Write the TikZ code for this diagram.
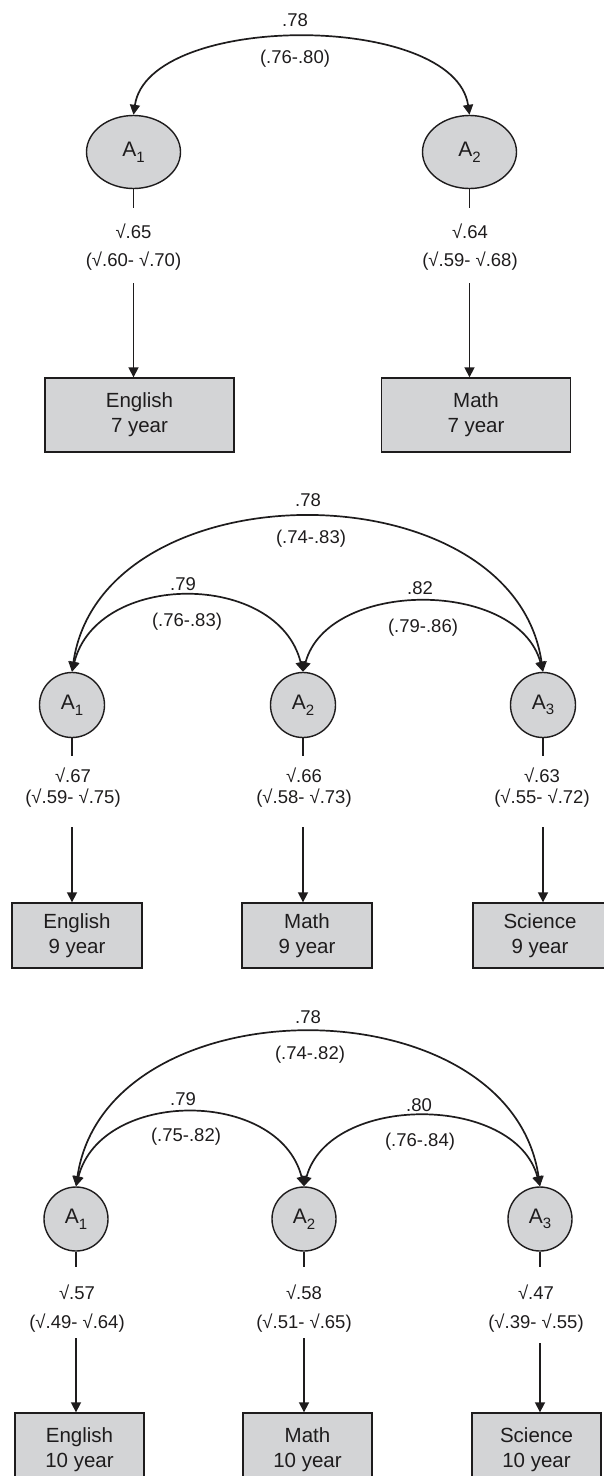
\documentclass[tikz,border=0pt]{standalone}
\usepackage{fontspec}
\setmainfont{Liberation Sans}
\usetikzlibrary{arrows.meta,shapes.geometric,calc}
\definecolor{nodefill}{RGB}{211,212,214}
\definecolor{ink}{RGB}{30,28,29}
\newcommand\latsub[1]{\raisebox{-0.5ex}{\fontsize{15}{15}\selectfont #1}}
\begin{document}
\begin{tikzpicture}[x=1pt,y=-1pt,
  lat/.style={ellipse,draw=ink,fill=nodefill,line width=1.4pt,inner sep=0pt,text=ink,font=\fontsize{21}{24}\selectfont},
  obs/.style={rectangle,draw=ink,fill=nodefill,line width=1.4pt,inner sep=0pt,align=center,text=ink,font=\fontsize{20.5}{25}\selectfont},
  lbl/.style={inner sep=0pt,text=ink,font=\fontsize{18.5}{21}\selectfont},
  load/.style={lbl,align=center},
  conn/.style={draw=ink,line width=1.7pt},
  arr/.style={conn,-{Triangle[length=10pt,width=10pt]}},
  corr/.style={conn,{Triangle[length=10pt,width=10pt]}-{Triangle[length=10pt,width=10pt]}},
]
\useasboundingbox (0,0) rectangle (603,1476);

% ---------------- Panel 1 ----------------
\node[lat,minimum width=94pt,minimum height=73pt] (pA1) at (133.5,152) {A\latsub{1}};
\node[lat,minimum width=94pt,minimum height=73pt] (pA2) at (469.5,152) {A\latsub{2}};
\node[lbl] (pc12) at (295,20) {.78};
\node[lbl] (pci12) at (295,59) {(.76-.80)};
\draw[corr] (pA1.north) .. controls ($(pA1.north)+(15,-103)$) and ($(pA2.north)+(-15,-103)$) .. (pA2.north);

\node[obs,minimum width=189pt,minimum height=74pt] (pE) at (139.5,415) {English\\7 year};
\node[obs,minimum width=189pt,minimum height=74pt] (pM) at (476,415) {Math\\7 year};

\coordinate (ps1) at (133.5,208);
\coordinate (ps2) at (469.5,208);
\draw[conn] (pA1.south) -- (ps1);
\draw[conn] (pA2.south) -- (ps2);
\node[load,font=\fontsize{18.5}{28}\selectfont] (pl1) at (133.5,247) {√.65\\(√.60- √.70)};
\node[load,font=\fontsize{18.5}{28}\selectfont] (pl2) at (470,247) {√.64\\(√.59- √.68)};
\coordinate (pt1) at (133.5,283);
\coordinate (pt2) at (469.5,283);
\draw[arr] (pt1) -- (pt1 |- pE.north);
\draw[arr] (pt2) -- (pt2 |- pM.north);

% ---------------- Panel 2 ----------------
\node[lat,minimum width=65pt,minimum height=65pt] (qA1) at (72,705) {A\latsub{1}};
\node[lat,minimum width=65pt,minimum height=65pt] (qA2) at (303,705) {A\latsub{2}};
\node[lat,minimum width=65pt,minimum height=65pt] (qA3) at (543,705) {A\latsub{3}};
\draw[corr] (qA1.north) .. controls ($(qA1.north)+(30,-206)$) and ($(qA3.north)+(-30,-206)$) .. (qA3.north);
\draw[corr] (qA1.north) .. controls ($(qA1.north)+(25,-101)$) and ($(qA2.north)+(-25,-101)$) .. (qA2.north);
\draw[corr] (qA2.north) .. controls ($(qA2.north)+(25,-93)$) and ($(qA3.north)+(-25,-93)$) .. (qA3.north);
\node[lbl] (qc13) at (308,500) {.78};
\node[lbl] (qci13) at (311,539) {(.74-.83)};
\node[lbl] (qc12) at (183,584) {.79};
\node[lbl] (qci12) at (187,622) {(.76-.83)};
\node[lbl] (qc23) at (420,588) {.82};
\node[lbl] (qci23) at (423,628) {(.79-.86)};

\node[obs,minimum width=130pt,minimum height=65pt] (qE) at (77,935.5) {English\\9 year};
\node[obs,minimum width=130pt,minimum height=65pt] (qM) at (307,935.5) {Math\\9 year};
\node[obs,minimum width=134pt,minimum height=65pt] (qS) at (540,935.5) {Science\\9 year};

\coordinate (qs1) at (72,756);
\coordinate (qs2) at (303,756);
\coordinate (qs3) at (543,756);
\draw[conn] (qA1.south) -- (qs1);
\draw[conn] (qA2.south) -- (qs2);
\draw[conn] (qA3.south) -- (qs3);
\node[load] (ql1) at (73,788) {√.67\\(√.59- √.75)};
\node[load] (ql2) at (304,788) {√.66\\(√.58- √.73)};
\node[load] (ql3) at (542,788) {√.63\\(√.55- √.72)};
\coordinate (qt1) at (72,827);
\coordinate (qt2) at (303,827);
\coordinate (qt3) at (543,827);
\draw[arr] (qt1) -- (qt1 |- qE.north);
\draw[arr] (qt2) -- (qt2 |- qM.north);
\draw[arr] (qt3) -- (qt3 |- qS.north);

% ---------------- Panel 3 ----------------
\node[lat,minimum width=64pt,minimum height=64pt] (rA1) at (76,1219) {A\latsub{1}};
\node[lat,minimum width=64pt,minimum height=64pt] (rA2) at (304,1219) {A\latsub{2}};
\node[lat,minimum width=64pt,minimum height=64pt] (rA3) at (540,1219) {A\latsub{3}};
\draw[corr] (rA1.north) .. controls ($(rA1.north)+(30,-205)$) and ($(rA3.north)+(-30,-205)$) .. (rA3.north);
\draw[corr] (rA1.north) .. controls ($(rA1.north)+(25,-98)$) and ($(rA2.north)+(-25,-98)$) .. (rA2.north);
\draw[corr] (rA2.north) .. controls ($(rA2.north)+(25,-93)$) and ($(rA3.north)+(-25,-93)$) .. (rA3.north);
\node[lbl] (rc13) at (308,1017) {.78};
\node[lbl] (rci13) at (310,1055) {(.74-.82)};
\node[lbl] (rc12) at (183,1099) {.79};
\node[lbl] (rci12) at (186,1137) {(.75-.82)};
\node[lbl] (rc23) at (419,1105) {.80};
\node[lbl] (rci23) at (420,1142) {(.76-.84)};

\node[obs,minimum width=129pt,minimum height=74pt] (rE) at (79.5,1450) {English\\10 year};
\node[obs,minimum width=129pt,minimum height=74pt] (rM) at (307.5,1450) {Math\\10 year};
\node[obs,minimum width=129pt,minimum height=74pt] (rS) at (536.5,1450) {Science\\10 year};

\coordinate (rs1) at (76,1267);
\coordinate (rs2) at (304,1267);
\coordinate (rs3) at (540,1267);
\draw[conn] (rA1.south) -- (rs1);
\draw[conn] (rA2.south) -- (rs2);
\draw[conn] (rA3.south) -- (rs3);
\node[load,font=\fontsize{18.5}{29}\selectfont] (rl1) at (77,1309) {√.57\\(√.49- √.64)};
\node[load,font=\fontsize{18.5}{29}\selectfont] (rl2) at (304,1309) {√.58\\(√.51- √.65)};
\node[load,font=\fontsize{18.5}{29}\selectfont] (rl3) at (536,1309) {√.47\\(√.39- √.55)};
\coordinate (rt1) at (76,1338);
\coordinate (rt2) at (304,1338);
\coordinate (rt3) at (540,1343);
\draw[arr] (rt1) -- (rt1 |- rE.north);
\draw[arr] (rt2) -- (rt2 |- rM.north);
\draw[arr] (rt3) -- (rt3 |- rS.north);
\end{tikzpicture}
\end{document}
